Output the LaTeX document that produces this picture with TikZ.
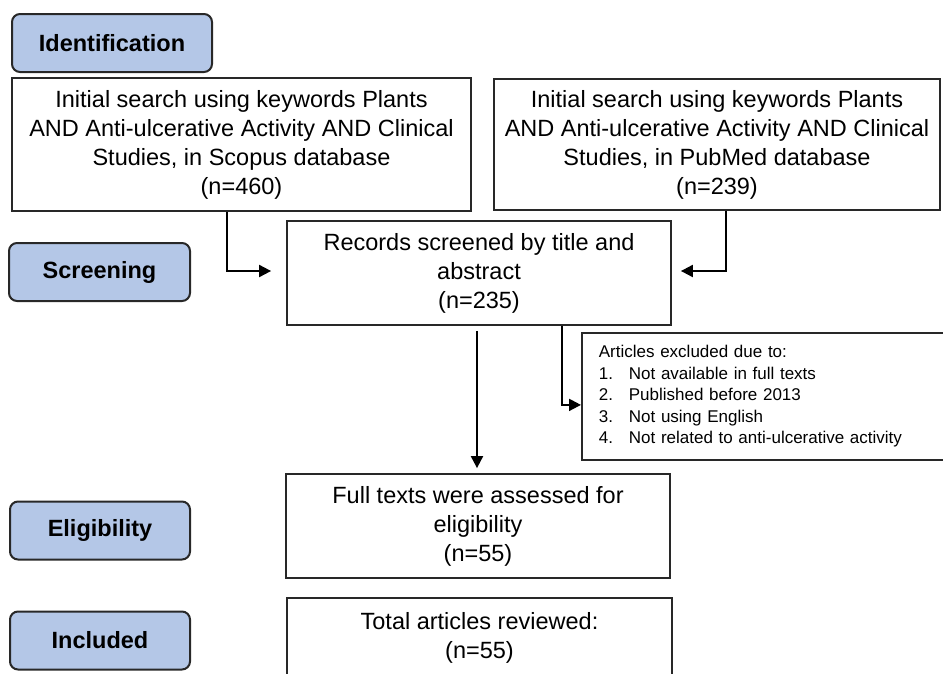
\documentclass[tikz,border=0pt]{standalone}
\usepackage{fontspec}
\setmainfont{Liberation Sans}
\usetikzlibrary{arrows.meta}
\definecolor{stagefill}{RGB}{180,199,231}
\definecolor{edge}{RGB}{40,40,40}

\begin{document}
\begin{tikzpicture}[x=1pt, y=-1pt, line join=miter,
    stage/.style={draw=edge, line width=2pt, fill=stagefill, rounded corners=8pt, minimum height=58pt, inner sep=0pt, font=\fontsize{23.5}{28}\selectfont\bfseries},
    box/.style={draw=edge, line width=1.8pt, align=center, inner sep=0pt, font=\fontsize{23.5}{29}\selectfont},
    arr/.style={line width=2pt, -{Triangle[length=12pt, width=12pt]}}]
                \useasboundingbox (0,0) rectangle (943,673);
                \clip (0,0) rectangle (943,673);
                \foreach \name/\x/\y/\w/\txt in {ident/112/43/200/Identification, screen/99.5/272/181/Screening, elig/100/530.5/180/Eligibility, incl/100/640.5/180/Included}
                    \node[stage, minimum width=\w pt] (\name) at (\x,\y) {\txt};
                \node[box, minimum width=459pt, minimum height=133pt] (scopus) at (241.5,144.5) {Initial search using keywords Plants\\AND Anti-ulcerative Activity AND Clinical\\Studies, in Scopus database\\(n=460)};
                \node[box, minimum width=446pt, minimum height=131pt] (pubmed) at (717,144.5) {Initial search using keywords Plants\\AND Anti-ulcerative Activity AND Clinical\\Studies, in PubMed database\\(n=239)};
                \node[box, minimum width=384pt, minimum height=104pt] (records) at (479,273) {Records screened by title and\\abstract\\(n=235)};
                \node[box, anchor=north west, minimum height=127pt, text width=333pt, inner xsep=17pt, align=left, font=\fontsize{17}{21.5}\selectfont] (excl) at (581,332) {Articles excluded due to:\\\makebox[30pt][l]{1.}Not available in full texts\\\makebox[30pt][l]{2.}Published before 2013\\\makebox[30pt][l]{3.}Not using English\\\makebox[30pt][l]{4.}Not related to anti-ulcerative activity};
                \node[box, minimum width=384pt, minimum height=104pt] (full) at (478,526) {Full texts were assessed for\\eligibility\\(n=55)};
                \node[box, minimum width=385pt, minimum height=80pt] (total) at (479.5,638) {Total articles reviewed:\\(n=55)};
                \draw[arr] ([xshift=-14.5pt]scopus.south) |- ([xshift=-15pt, yshift=2pt]records.west);
                \draw[arr] ([xshift=9pt]pubmed.south) |- ([xshift=9pt, yshift=2pt]records.east);
                \draw[arr, shorten <=5pt, shorten >=5pt] ([xshift=-2pt]records.south) -- ([xshift=-1pt]full.north);
                \draw[arr] ([xshift=83pt]records.south) |- ([yshift=-8.5pt]excl.west);
            \end{tikzpicture}
\end{document}
